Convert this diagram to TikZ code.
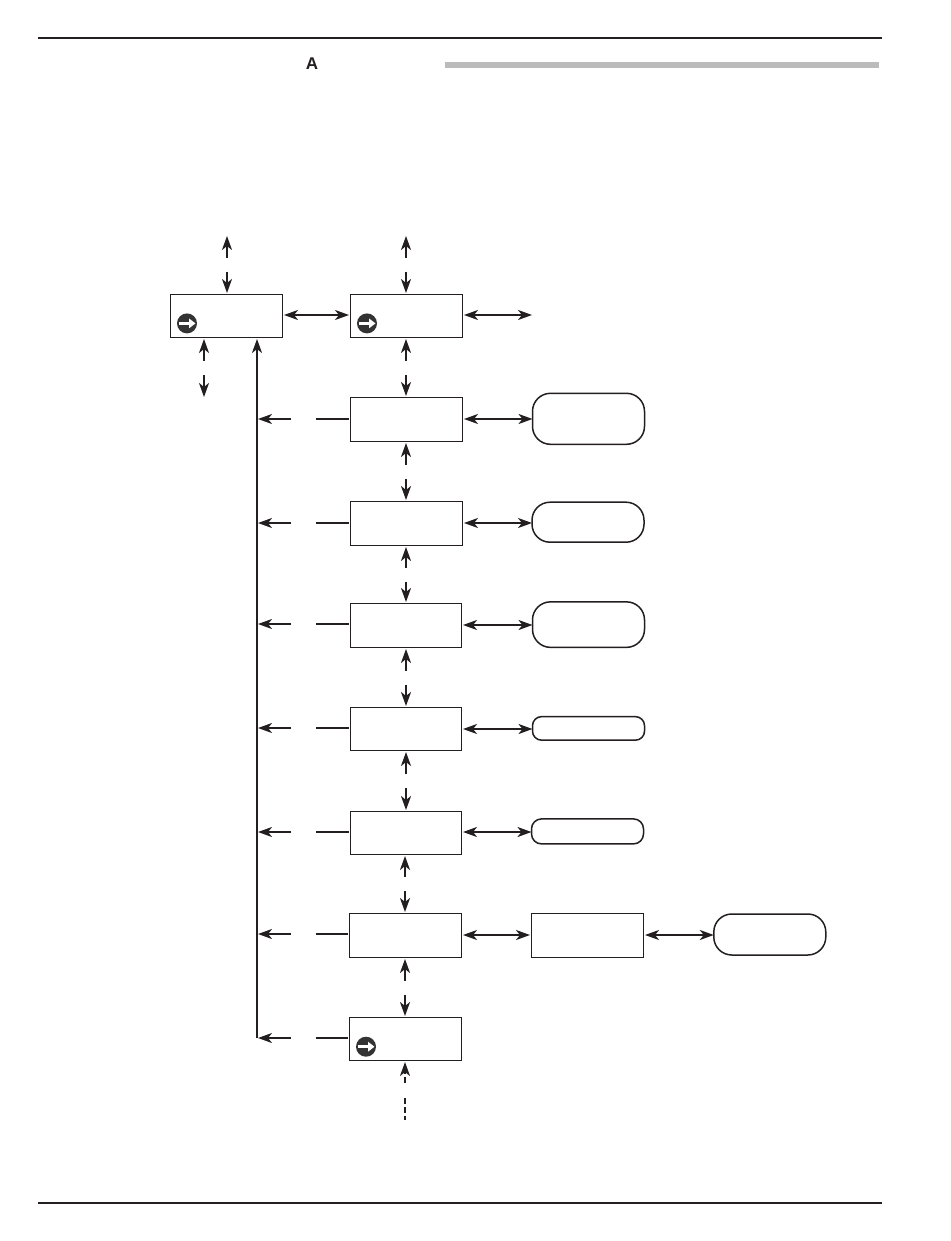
\documentclass[tikz,border=0pt]{standalone}
\usepackage{fontspec}
\setmainfont{Liberation Sans}
\usetikzlibrary{arrows.meta,calc}
\definecolor{inkdark}{HTML}{231F20}
\definecolor{bargray}{HTML}{BBBBBB}
\definecolor{icondark}{HTML}{333333}
\tikzset{>={Stealth[length=14pt,width=10pt,inset=4pt]}}
\tikzset{menubox/.style={draw=inkdark,line width=1.1pt,fill=white,minimum width=112pt,minimum height=44pt,inner sep=0pt,outer sep=1.5pt}}
\tikzset{pill/.style={draw=inkdark,line width=1.5pt,fill=white,minimum width=112pt,inner sep=0pt,outer sep=0pt,rounded corners=#1}}
\tikzset{link/.style={draw=inkdark,line width=2pt}}
\tikzset{rule/.style={draw=inkdark,line width=2pt}}
\tikzset{goicon/.style={circle,fill=icondark,minimum size=20pt,inner sep=0pt,path picture={
	\draw[white,line width=3.5pt,-{Triangle[length=6.5pt,width=9.5pt]}] ([xshift=-8.5pt]path picture bounding box.center) -- ([xshift=8.5pt]path picture bounding box.center);}}}
% two arrows that leave a free stretch halfway
\newcommand{\gaplink}[4][]{
	\coordinate (#2mid) at ($(#3)!.5!(#4)$);
	\draw[link,->,shorten <=7pt,#1] (#2mid) -- (#3);
	\draw[link,->,shorten <=7pt,#1] (#2mid) -- (#4);}
\begin{document}
\begin{tikzpicture}[x=1pt,y=-1pt]
	\useasboundingbox (0,0) rectangle (950,1241);
	% page furniture
	\coordinate (topl) at (38,38);
	\coordinate (topr) at (882,38);
	\coordinate (botl) at (38,1203);
	\coordinate (botr) at (882,1203);
	\draw[rule] (topl) -- (topr);
	\draw[rule] (botl) -- (botr);
	\node[font=\bfseries,text=inkdark,scale=1.7,inner sep=0pt] (title) at (312,64) {A};
	\fill[bargray] (445,62) rectangle (879,68);
	% menu boxes
	\node[menubox,minimum height=43pt] (modea) at (226.5,316) {};
	\node[menubox,minimum height=43pt] (modeb) at (406.5,316) {};
	\node[menubox] (row1) at (406.5,419.5) {};
	\node[menubox] (row2) at (406.5,523.5) {};
	\node[menubox,minimum width=111pt] (row3) at (406,625.5) {};
	\node[menubox,minimum width=111pt,minimum height=43pt] (row4) at (406,729) {};
	\node[menubox,minimum width=111pt,minimum height=43pt] (row5) at (406,833) {};
	\node[menubox] (row6) at (405.5,935.5) {};
	\node[menubox,minimum height=43pt] (row7) at (405.5,1039) {};
	\node[menubox] (sub6) at (587.5,935.5) {};
	% result boxes
	\node[pill=18pt,minimum height=51pt] (res1) at (588.5,418.8) {};
	\node[pill=18pt,minimum height=40pt] (res2) at (588,522.2) {};
	\node[pill=18pt,minimum height=45.5pt] (res3) at (588.5,624.6) {};
	\node[pill=9pt,minimum height=23.5pt] (res4) at (588.5,728.4) {};
	\node[pill=10pt,minimum height=25pt] (res5) at (587.5,831.4) {};
	\node[pill=18pt,minimum height=41pt] (res6) at (769.8,934.5) {};
	% icons
	\node[goicon] (icona) at (187,323.4) {};
	\node[goicon] (iconb) at (367,323.4) {};
	\node[goicon] (iconc) at (366,1046.7) {};
	% free ends and line axes
	\coordinate (atop) at (227,236);
	\coordinate (btop) at (406,236);
	\coordinate (bout) at (532,315);
	\coordinate (adown) at (204,397);
	\coordinate (tail) at (405,1120);
	\coordinate (trunk) at (257,1038);
	\coordinate (axisa) at (406,0);
	\coordinate (axisb) at (405,0);
	\coordinate (aup) at (adown |- modea.south);
	% vertical links
	\gaplink{va}{atop |- modea.north}{atop}
	\gaplink{vb}{btop |- modeb.north}{btop}
	\gaplink{vc}{aup}{adown}
	\gaplink{vd}{axisa |- modeb.south}{axisa |- row1.north}
	\foreach \up/\dn/\ax in {row1/row2/axisa,row2/row3/axisa,row3/row4/axisa,row4/row5/axisa,row5/row6/axisb,row6/row7/axisb}{
		\gaplink{\up}{\ax |- \up.south}{\ax |- \dn.north}
	}
	% horizontal links
	\draw[link,<->] ([yshift=1pt]modea.east) -- ([yshift=1pt]modeb.west);
	\draw[link,<->] (modeb.east |- bout) -- (bout);
	\foreach \n/\dy in {1/0.5,2/0.5,3/0.5,4/0,5/1}{
		\draw[link,<->] ([yshift=\dy pt]row\n.east) -- ([yshift=\dy pt]row\n.east -| res\n.west);
	}
	\draw[link,<->] ([yshift=.5pt]row6.east) -- ([yshift=.5pt]sub6.west);
	\draw[link,<->] ([yshift=.5pt]sub6.east) -- ([yshift=.5pt]sub6.east -| res6.west);
	% return line
	\draw[link,->] (trunk) -- (trunk |- modea.south);
	\foreach \n/\dy in {1/0.5,2/0.5,3/1.5,4/1,5/1,6/1.5,7/1}{
		\coordinate (from\n) at ([yshift=\dy pt]row\n.west);
		\coordinate (back\n) at ($(trunk |- from\n)+(1,0)$);
		\coordinate (backmid\n) at ($(back\n)!.5!(from\n)$);
		\draw[link,shorten <=12.5pt] (backmid\n) -- (from\n);
		\draw[link,->,shorten <=12.5pt] (backmid\n) -- (back\n);
	}
	% broken entry line
	\coordinate (entry) at (405,1090.5);
	\draw[link,->,shorten <=7.5pt,dash pattern=on 6pt off 3pt] (entry) -- (axisb |- row7.south);
	\draw[link,shorten <=7.5pt,dash pattern=on 6pt off 3pt] (entry) -- (tail);
\end{tikzpicture}
\end{document}
